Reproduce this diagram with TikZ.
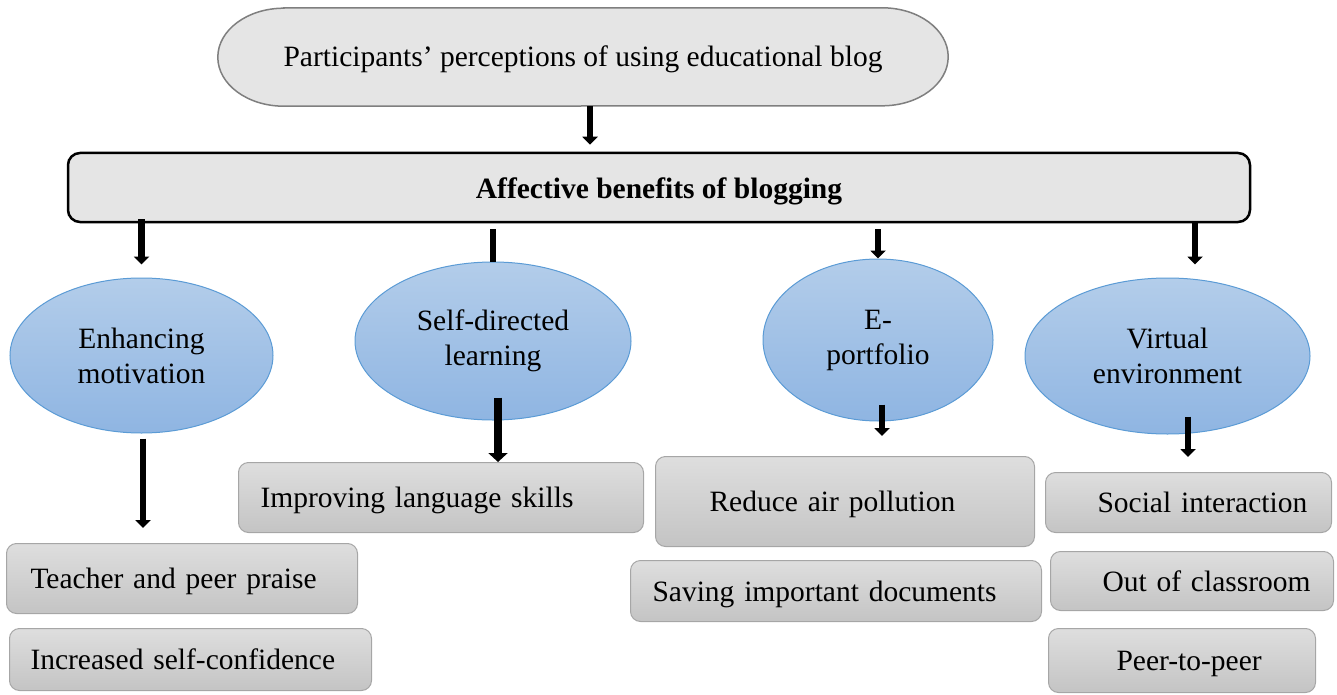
\documentclass[tikz,border=0pt]{standalone}
\usepackage{fontspec}
\setmainfont{Liberation Serif}
\usepackage{tikz}
\usetikzlibrary{shapes.geometric, arrows.meta, backgrounds}
\definecolor{themeline}{HTML}{7F7F7F}
\definecolor{ellline}{HTML}{5B9BD5}
\definecolor{elltop}{HTML}{B3CDEA}
\definecolor{ellbot}{HTML}{8FB5E2}
\definecolor{leafline}{HTML}{A6A6A6}
\definecolor{leaftop}{HTML}{DEDEDE}
\definecolor{leafbot}{HTML}{C4C4C4}
\tikzstyle{theme}=[minimum width=730pt, minimum height=98pt, inner sep=0pt, text height=23pt, text depth=3pt]
\tikzstyle{band}=[draw, line width=2.5pt, rounded corners=12pt, fill=black!10, minimum width=1182pt, minimum height=69pt, text height=23pt, text depth=2pt]
\tikzstyle{benefit}=[ellipse, draw=ellline, line width=1pt, top color=elltop, bottom color=ellbot, align=center, inner sep=0pt]
\tikzstyle{leaf}=[draw=leafline, line width=1pt, rounded corners=10pt, top color=leaftop, bottom color=leafbot, anchor=north west, align=left, inner xsep=0pt, inner ysep=0pt, text height=23pt, text depth=3pt]
\tikzstyle{arr}=[line width=6.5pt, -{Triangle[width=15pt,length=8pt]}]
\tikzstyle{stem}=[line width=6.5pt]

\begin{document}
\begin{tikzpicture}[x=1pt,y=1pt,font=\fontsize{29.5}{35}\selectfont]
    \useasboundingbox (0,0) rectangle (1337,-695);
    % top and band
    \node [theme] (percept) at (583,-57) {Participants’ perceptions of using educational blog};
    \begin{scope}[on background layer]
        \draw [draw=themeline, line width=1.5pt, fill=black!10] ([xshift=66pt]percept.north west) -- ([xshift=-66pt]percept.north east)
            arc[start angle=90, end angle=-90, x radius=66pt, y radius=49pt] -- ([xshift=66pt]percept.south west)
            arc[start angle=270, end angle=90, x radius=66pt, y radius=49pt] -- cycle;
    \end{scope}
    \node [band] (affect) at (659,-187.5) {\textbf{Affective benefits of blogging}};
    % benefits
    \node [benefit, minimum width=263pt, minimum height=155pt] (motiv) at (141.5,-355.5) {Enhancing\\motivation};
    \node [benefit, minimum width=276pt, minimum height=158pt] (selfdir) at (493,-341) {Self-directed\\learning};
    \node [benefit, minimum width=230pt, minimum height=162pt] (eport) at (878,-340) {E-\\portfolio};
    \node [benefit, minimum width=285pt, minimum height=156pt] (venv) at (1167.5,-356) {Virtual\\environment};
    % leaves
    \node [leaf, text width=351pt, minimum height=70pt] (praise) at (6,-543) {\hspace*{24pt}Teacher and peer praise};
    \node [leaf, text width=362pt, minimum height=62pt] (confid) at (9,-628) {\hspace*{21pt}Increased self-confidence};
    \node [leaf, text width=405pt, minimum height=70pt] (skills) at (238,-462) {\hspace*{22pt}Improving language skills};
    \node [leaf, text width=379pt, minimum height=90pt] (air) at (655,-456) {\hspace*{54pt}Reduce air pollution};
    \node [leaf, text width=411pt, minimum height=61pt] (docs) at (630,-560) {\hspace*{22pt}Saving important documents};
    \node [leaf, text width=286pt, minimum height=60pt] (social) at (1045,-472) {\hspace*{52pt}Social interaction};
    \node [leaf, text width=283pt, minimum height=59pt] (class) at (1050,-551) {\hspace*{52pt}Out of classroom};
    \node [leaf, text width=267pt, minimum height=64pt] (peer) at (1048,-628) {\hspace*{68pt}Peer-to-peer};
    % arrows
    \draw [arr] ([xshift=7pt]percept.south) -- ([xshift=7pt,yshift=7pt]percept.south |- affect.north);
    \draw [arr] ([yshift=4pt]affect.south -| motiv.north) -- ([yshift=13pt]motiv.north);
    \draw [stem] ([yshift=-6pt]affect.south -| selfdir.north) -- (selfdir.north);
    \draw [arr] ([yshift=-6pt]affect.south -| eport.north) -- (eport.north);
    \draw [arr] ([xshift=27.5pt]affect.south -| venv.north) -- ([xshift=27.5pt,yshift=13pt]venv.north);
    \draw [arr] ([xshift=1.5pt,yshift=-5pt]motiv.south) -- ([xshift=1.5pt,yshift=15pt]motiv.south |- praise.north);
    \draw [arr, line width=8pt, -{Triangle[width=19pt,length=9pt]}] ([xshift=5pt,yshift=23pt]selfdir.south) -- ([xshift=5pt]selfdir.south |- skills.north);
    \draw [arr] ([xshift=4pt,yshift=17pt]eport.south) -- ([xshift=4pt,yshift=20pt]eport.south |- air.north);
    \draw [arr] ([xshift=20.5pt,yshift=18pt]venv.south) -- ([xshift=20.5pt,yshift=15pt]venv.south |- social.north);
\end{tikzpicture}
\end{document}
